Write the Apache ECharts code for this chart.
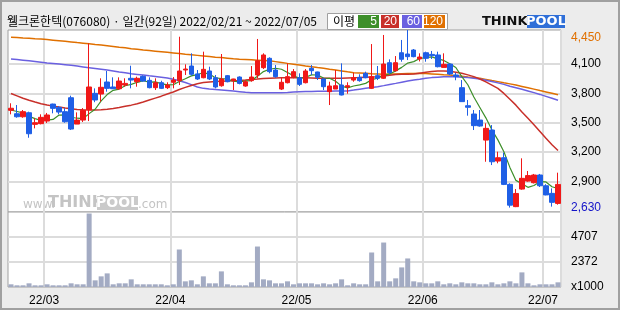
<!DOCTYPE html>
<html><head><meta charset="utf-8">
<script src="https://cdn.jsdelivr.net/npm/echarts@6/dist/echarts.min.js"></script>
<style>html,body{margin:0;padding:0;background:#ececec}#c{width:620px;height:310px}</style>
</head><body><div id="c"></div>
<script>
const titleText = '웰크론한텍(076080) · 일간(92일) 2022/02/21 ~ 2022/07/05';
const dates = [
'2022/02/21','2022/02/22','2022/02/23','2022/02/24','2022/02/25','2022/02/28',
'2022/03/02','2022/03/03','2022/03/04','2022/03/07','2022/03/08','2022/03/10','2022/03/11','2022/03/14','2022/03/15','2022/03/16','2022/03/17','2022/03/18','2022/03/21','2022/03/22','2022/03/23','2022/03/24','2022/03/25','2022/03/28','2022/03/29','2022/03/30','2022/03/31',
'2022/04/01','2022/04/04','2022/04/05','2022/04/06','2022/04/07','2022/04/08','2022/04/11','2022/04/12','2022/04/13','2022/04/14','2022/04/15','2022/04/18','2022/04/19','2022/04/20','2022/04/21','2022/04/22','2022/04/25','2022/04/26','2022/04/27','2022/04/28','2022/04/29',
'2022/05/02','2022/05/03','2022/05/04','2022/05/06','2022/05/09','2022/05/10','2022/05/11','2022/05/12','2022/05/13','2022/05/16','2022/05/17','2022/05/18','2022/05/19','2022/05/20','2022/05/23','2022/05/24','2022/05/25','2022/05/26','2022/05/27','2022/05/30','2022/05/31',
'2022/06/02','2022/06/03','2022/06/07','2022/06/08','2022/06/09','2022/06/10','2022/06/13','2022/06/14','2022/06/15','2022/06/16','2022/06/17','2022/06/20','2022/06/21','2022/06/22','2022/06/23','2022/06/24','2022/06/27','2022/06/28','2022/06/29','2022/06/30',
'2022/07/01','2022/07/04','2022/07/05'];
const opens = [3627,3592,3561,3602,3483,3490,3517,3691,3657,3613,3756,3486,3527,3633,3801,3794,3917,3866,3848,3886,3955,3920,3975,3934,3859,3910,3859,3914,3931,4040,4081,4000,3961,4030,3961,3879,3982,3931,3968,3876,3931,3989,4064,4160,4040,3845,3910,3972,3961,3910,4057,4020,3948,3818,3845,3886,3866,3937,3965,4006,3852,3982,3955,4115,4033,4217,4204,4245,4153,4217,4200,4194,4067,4101,3989,3859,3674,3589,3527,3322,3425,3107,3141,2868,2640,2820,2902,2885,2964,2854,2776,2673];
const closes = [3648,3561,3613,3387,3500,3555,3579,3647,3609,3510,3435,3527,3627,3866,3733,3863,3852,3848,3927,3903,3937,3955,3927,3859,3910,3852,3886,3937,4030,4050,3996,3948,4047,3948,3866,3948,3920,3948,3903,3920,3968,4135,4194,4023,3972,3914,3972,4023,3893,4030,4033,3965,3869,3876,3879,3784,3879,3961,3931,3961,3972,3955,4101,4013,4115,4150,4177,4177,4173,4160,4187,4074,4098,3999,3972,3716,3658,3470,3466,3442,3100,3141,2868,2655,2775,2930,2958,2964,2854,2760,2684,2868];
const highs = [3699,3681,3630,3613,3545,3586,3600,3695,3670,3650,3777,3606,3650,4313,3852,3955,4030,3965,3965,3955,4084,3972,3985,3965,3955,3930,3914,3968,4381,4098,4211,4040,4228,4074,3989,4204,3989,3950,3975,3937,4081,4358,4211,4170,4091,3961,4108,4050,4006,4050,4091,4023,3955,3920,4040,4108,3914,4013,3996,4023,4306,4081,4399,4149,4183,4348,4450,4255,4211,4228,4235,4228,4211,4108,4013,3937,3733,3630,3630,3494,3476,3203,3193,2879,2820,3135,3005,2975,2975,2870,2827,2988];
const lows = [3586,3551,3551,3346,3442,3483,3497,3596,3586,3500,3425,3486,3507,3517,3710,3716,3818,3845,3835,3869,3852,3869,3920,3852,3835,3845,3845,3852,3886,3989,3982,3938,3955,3937,3852,3869,3914,3835,3893,3869,3920,3955,4050,4006,3961,3835,3903,3955,3876,3903,3989,3938,3835,3681,3845,3780,3797,3920,3920,3955,3845,3937,3948,3996,4023,4125,4142,4170,4128,4125,4153,4067,4067,3989,3935,3716,3572,3425,3460,3100,3066,3084,2861,2630,2635,2813,2895,2878,2841,2756,2640,2660];
const volumes = [252,158,158,345,158,158,252,158,158,158,345,252,252,6900,625,999,1279,252,345,345,719,252,252,252,252,252,158,252,3521,532,625,252,999,345,345,1466,252,158,158,158,438,3801,719,625,345,345,532,252,345,345,345,252,345,252,345,719,158,345,252,252,3240,532,4175,532,812,1840,2680,532,438,345,345,532,252,345,252,438,345,345,252,252,438,252,345,532,345,1372,345,158,252,252,252,438];
const ma5 = [3630,3615,3600,3565,3542,3523,3527,3534,3578,3580,3556,3546,3542,3593,3638,3723,3788,3832,3845,3879,3893,3914,3930,3916,3918,3901,3887,3889,3923,3951,3980,3992,4014,3998,3961,3951,3946,3926,3917,3928,3932,3975,4024,4048,4058,4048,4015,3981,3955,3966,3990,3989,3958,3955,3924,3875,3857,3876,3887,3903,3941,3956,3984,4000,4031,4067,4111,4126,4158,4167,4175,4154,4138,4104,4066,3972,3889,3763,3656,3550,3427,3324,3203,3042,2909,2875,2838,2857,2896,2893,2844,2826];
const ma20 = [3800,3775,3750,3730,3712,3695,3682,3670,3660,3650,3642,3636,3632,3630,3630,3632,3638,3646,3656,3668,3680,3695,3712,3732,3752,3772,3794,3815,3840,3862,3882,3900,3912,3918,3922,3925,3928,3930,3933,3937,3942,3947,3953,3956,3958,3960,3961,3961,3961,3960,3958,3956,3955,3955,3955,3956,3958,3960,3962,3965,3968,3971,3978,3986,3994,3996,3996,4000,4008,4016,4024,4030,4031,4028,4018,4006,3990,3972,3948,3918,3885,3852,3800,3740,3680,3610,3545,3480,3410,3340,3275,3215];
const ma60 = [4153,4147,4141,4134,4127,4120,4113,4107,4101,4095,4088,4080,4072,4064,4056,4048,4040,4030,4020,4011,4002,3995,3988,3980,3973,3966,3958,3945,3930,3912,3890,3866,3852,3845,3840,3835,3830,3824,3818,3812,3808,3807,3806,3806,3806,3807,3810,3814,3818,3820,3821,3822,3822,3823,3824,3825,3826,3834,3843,3852,3860,3869,3880,3892,3903,3915,3927,3938,3946,3955,3962,3967,3972,3972,3970,3966,3962,3956,3948,3936,3922,3908,3893,3874,3858,3842,3825,3808,3790,3770,3750,3730];
const ma120 = [4375,4372,4368,4365,4361,4358,4352,4346,4340,4334,4328,4321,4315,4309,4302,4296,4289,4282,4274,4267,4259,4252,4245,4239,4233,4227,4221,4215,4209,4202,4196,4190,4184,4178,4172,4167,4161,4155,4150,4147,4144,4141,4138,4135,4126,4117,4108,4100,4091,4082,4074,4065,4057,4048,4040,4031,4021,4012,4009,4006,4002,3999,3996,3998,4000,4002,4004,4005,4006,4003,4000,3996,3992,3989,3982,3975,3968,3962,3955,3944,3932,3921,3909,3898,3886,3872,3858,3844,3829,3815,3801,3787];
const priceGridTicks = [2900,3200,3500,3800,4100];
const priceLabelValues = [2630,2900,3200,3500,3800,4100,4450];
const priceHigh = 4450, priceLow = 2630;
const volGridTicks = [2372,4707];
const volLabelValues = [0,2372,4707];
const volUnit = 'x1000';
const maPeriods = ['5','20','60','120'];
const maColors = ['#3d8f2a','#c8302a','#6a60e0','#e07000'];

const NUM = '"Liberation Sans", Arial, sans-serif';
const KR = '"Noto Sans CJK KR", sans-serif';
const isMonthStart = i => i > 0 && dates[i].slice(5,7) !== dates[i-1].slice(5,7);
const monthLabel = d => d.slice(2,4) + '/' + d.slice(5,7);
const candles = dates.map((d,i) => [opens[i], closes[i], lows[i], highs[i]]);

const legendItems = [];
const boxes = [[358,21],[381,18],[402,20],[424,21]];
maPeriods.forEach((p,k) => {
  legendItems.push({type:'rect', shape:{x:boxes[k][0], y:15, width:boxes[k][1], height:13}, style:{fill:maColors[k]}});
  legendItems.push({type:'text', x:boxes[k][0]+boxes[k][1]-2, y:21.5, style:{text:p, font:'12px ' + NUM, fill:'#fff', textAlign:'right', textVerticalAlign:'middle'}});
});

const chart = echarts.init(document.getElementById('c'), null, {renderer:'canvas', width:620, height:310});
chart.setOption({
  animation:false,
  backgroundColor:'#ececec',
  title:{text:titleText, left:7, top:15, padding:0, textStyle:{fontFamily:KR, fontSize:12, fontWeight:'normal', color:'#000'}},
  grid:[
    {left:8, top:30, width:553, height:182, show:true, backgroundColor:'#fff', borderColor:'#a0a0a0', borderWidth:1},
    {left:8, top:212, width:553, height:75, show:true, backgroundColor:'#fff', borderColor:'#a0a0a0', borderWidth:1}
  ],
  xAxis:[
    {type:'category', gridIndex:0, data:dates, boundaryGap:true, axisLine:{show:false}, axisTick:{show:false}, axisLabel:{show:false},
     splitLine:{show:true, interval:(i)=>isMonthStart(i), lineStyle:{color:'#dcdcdc', width:2}}},
    {type:'category', gridIndex:1, data:dates, boundaryGap:true, axisLine:{show:false}, axisTick:{show:false},
     axisLabel:{show:true, interval:(i)=>isMonthStart(i), formatter:(v)=>monthLabel(v), margin:8, fontFamily:NUM, fontSize:12, color:'#000', padding:[0,6,0,0]},
     splitLine:{show:true, interval:(i)=>isMonthStart(i), lineStyle:{color:'#dcdcdc', width:2}}}
  ],
  yAxis:[
    {type:'value', gridIndex:0, position:'right', min:2585, max:4450, axisLine:{show:false},
     axisTick:{show:false, customValues:priceGridTicks},
     splitLine:{show:true, lineStyle:{color:'#dcdcdc', width:2}},
     axisLabel:{customValues:priceLabelValues, margin:10, fontFamily:NUM, fontSize:12, color:'#000',
       formatter:(v)=>{const s=v.toLocaleString('en-US'); if(v===priceHigh) return '{hi|'+s+'}'; if(v===priceLow) return '{lo|'+s+'}'; return s;},
       rich:{hi:{color:'#e07000', fontFamily:NUM, fontSize:12, padding:[16,0,0,0]}, lo:{color:'#1414c8', fontFamily:NUM, fontSize:12}}}},
    {type:'value', gridIndex:1, position:'right', min:0, max:7042, axisLine:{show:false},
     axisTick:{show:false, customValues:volGridTicks},
     splitLine:{show:true, lineStyle:{color:'#dcdcdc', width:2}},
     axisLabel:{customValues:volLabelValues, margin:10, fontFamily:NUM, fontSize:12, color:'#000',
       formatter:(v)=> v===0 ? volUnit : String(v)}}
  ],
  graphic:[
    {type:'rect', z:100, shape:{x:1, y:1, width:618, height:308}, style:{fill:'none', stroke:'#a0a0a0', lineWidth:2}},
    {type:'group', z:50, children:[
      {type:'rect', shape:{x:327.5, y:13.5, width:120, height:16}, style:{fill:'#fff', stroke:'#a0a0a0', lineWidth:1}},
      {type:'text', x:333, y:21.5, style:{text:'이평', font:'12px ' + KR, fill:'#000', textVerticalAlign:'middle'}}
    ].concat(legendItems)},
    {type:'group', z:50, children:[
      {type:'text', x:482, y:22, style:{text:'THINK', font:'bold 13px "DejaVu Sans"', fill:'#111', textVerticalAlign:'middle'}},
      {type:'rect', shape:{x:527, y:15, width:38, height:13}, style:{fill:'#2f6fd8'}},
      {type:'text', x:546, y:22, style:{text:'POOL', font:'bold 13px "DejaVu Sans"', fill:'#fff', textAlign:'center', textVerticalAlign:'middle'}}
    ]},
    {type:'group', z:1, children:[
      {type:'text', x:23, y:205, style:{text:'www.', font:'12px "DejaVu Sans"', fill:'#c4c4c4', textVerticalAlign:'middle'}},
      {type:'text', x:48, y:203, style:{text:'THINK', font:'bold 16px "DejaVu Sans"', fill:'#c4c4c4', textVerticalAlign:'middle'}},
      {type:'rect', shape:{x:97, y:196, width:41, height:14}, style:{fill:'#cacaca'}},
      {type:'text', x:117.5, y:203, style:{text:'POOL', font:'bold 14px "DejaVu Sans"', fill:'#fff', textAlign:'center', textVerticalAlign:'middle'}},
      {type:'text', x:138, y:205, style:{text:'.com', font:'12px "DejaVu Sans"', fill:'#c4c4c4', textVerticalAlign:'middle'}}
    ]}
  ],
  series:[
    {type:'line', xAxisIndex:0, yAxisIndex:0, data:ma120, symbol:'none', lineStyle:{color:maColors[3], width:1.5}, z:2},
    {type:'line', xAxisIndex:0, yAxisIndex:0, data:ma60, symbol:'none', lineStyle:{color:maColors[2], width:1.5}, z:2},
    {type:'line', xAxisIndex:0, yAxisIndex:0, data:ma20, symbol:'none', lineStyle:{color:maColors[1], width:1.5}, z:2},
    {type:'line', xAxisIndex:0, yAxisIndex:0, data:ma5, symbol:'none', lineStyle:{color:maColors[0], width:1.2}, z:2},
    {type:'candlestick', xAxisIndex:0, yAxisIndex:0, data:candles, barWidth:5, z:3,
     itemStyle:{color:'#f01818', color0:'#1f5fe6', borderColor:'#f01818', borderColor0:'#1f5fe6', borderWidth:1}},
    {type:'bar', xAxisIndex:1, yAxisIndex:1, data:volumes, barWidth:5, itemStyle:{color:'#a3abc3'}}
  ]
});
</script></body></html>
